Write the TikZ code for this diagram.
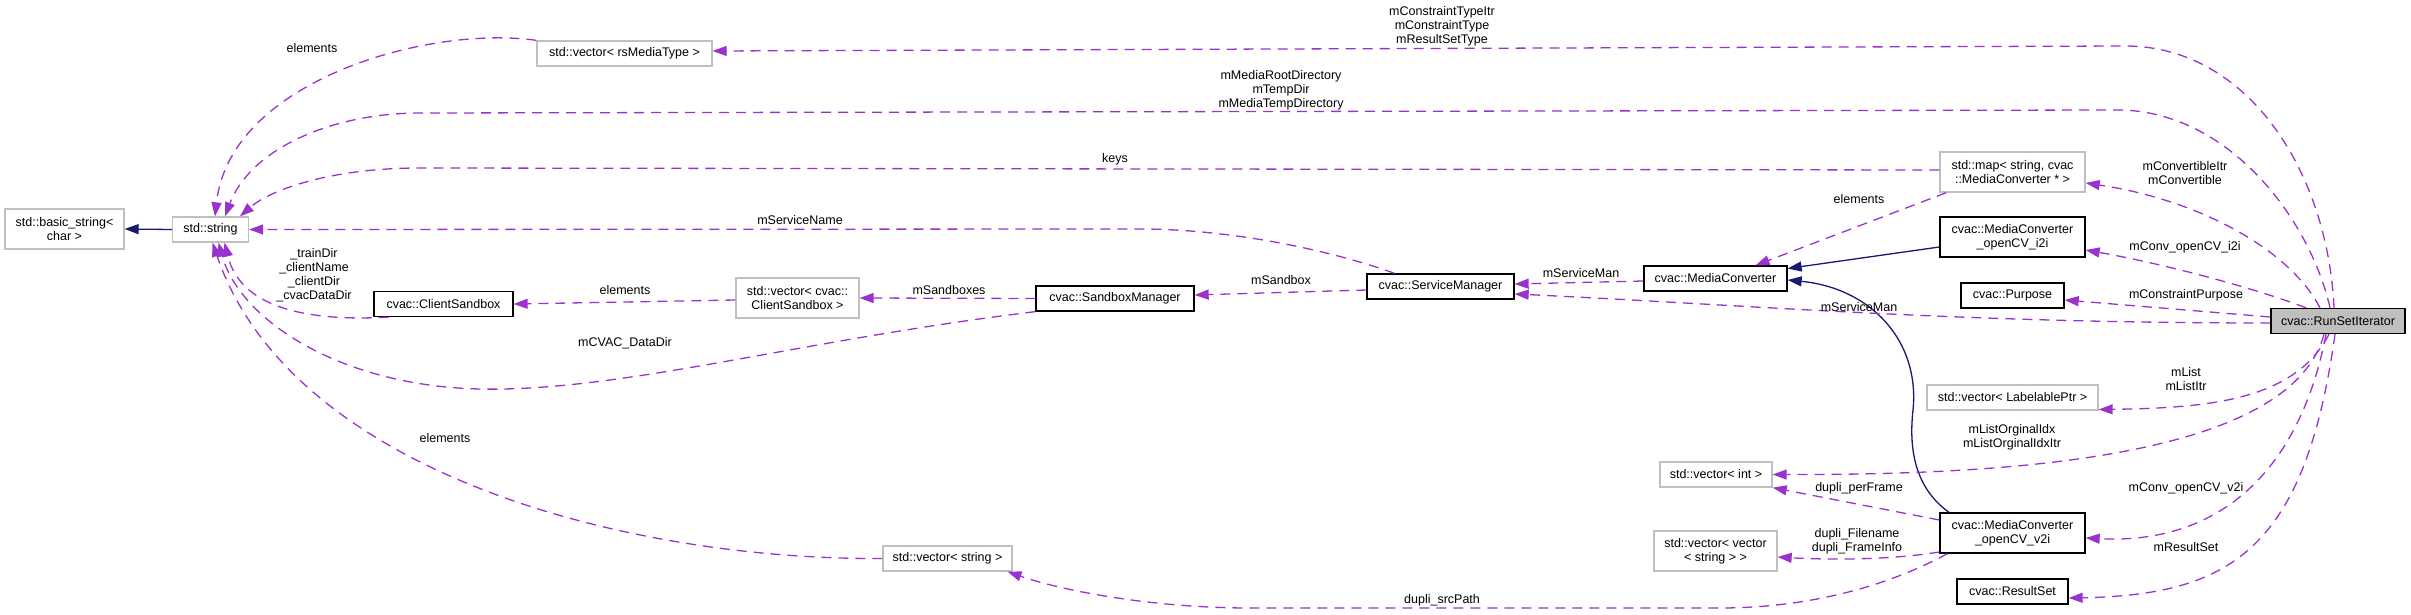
\documentclass[tikz,border=0pt]{standalone}
\usepackage{fontspec}
\setmainfont{Liberation Sans}
\usepackage{tikz}
\usetikzlibrary{arrows.meta,positioning,calc}
\definecolor{usecol}{HTML}{9A32CD}
\definecolor{inhcol}{HTML}{191970}
\definecolor{extcol}{HTML}{BFBFBF}

\begin{document}
\begin{tikzpicture}[x=1pt, y=-1pt,
  cls/.style={draw=black, fill=white, line width=1.3pt, inner sep=1pt, align=center, minimum height=25pt, font=\fontsize{12.5}{14}\selectfont},
  extcls/.style={cls, draw=extcol},
  twoline/.style={minimum height=40pt},
  usage/.style={draw=usecol, line width=1.3pt, dash pattern=on 10pt off 7pt, -{Triangle[length=14pt, width=10pt, fill=usecol]}},
  inherit/.style={draw=inhcol, line width=1.3pt, -{Triangle[length=14pt, width=10pt, fill=inhcol]}},
  lbl/.style={font=\fontsize{12.5}{14}\selectfont, align=center, inner sep=0pt}
]
\useasboundingbox (0,0) rectangle (2411,615);

\node[extcls, twoline, minimum width=119pt] (basicstr) at (64.5,229) {std::basic\_string<\\char >};
\node[extcls, minimum width=76pt] (stdstr) at (210.5,229.5) {std::string};
\node[extcls, minimum width=175pt] (vecrs) at (624.5,53.5) {std::vector< rsMediaType >};
\node[cls, minimum width=139pt] (clientsb) at (443.5,304) {cvac::ClientSandbox};
\node[extcls, twoline, minimum width=123pt] (vecclient) at (797.5,298) {std::vector< cvac::\\ClientSandbox >};
\node[cls, minimum width=158pt] (sandboxmgr) at (1115,298.5) {cvac::SandboxManager};
\node[cls, minimum width=147pt] (servicemgr) at (1440.5,286.5) {cvac::ServiceManager};
\node[cls, minimum width=143pt] (mediaconv) at (1715.5,278.5) {cvac::MediaConverter};
\node[extcls, twoline, minimum width=145pt] (stdmap) at (2012.5,172) {std::map< string, cvac\\::MediaConverter * >};
\node[cls, twoline, minimum width=145pt] (convi2i) at (2012.5,237) {cvac::MediaConverter\\\_openCV\_i2i};
\node[cls, minimum width=103pt] (purpose) at (2012.5,295.5) {cvac::Purpose};
\node[cls, fill=extcol, minimum width=134pt] (runset) at (2338,321) {cvac::RunSetIterator};
\node[extcls, minimum width=171pt] (veclab) at (2012.5,397.5) {std::vector< LabelablePtr >};
\node[extcls, minimum width=112pt] (vecint) at (1716,474.5) {std::vector< int >};
\node[cls, twoline, minimum width=145pt] (convv2i) at (2012.5,533) {cvac::MediaConverter\\\_openCV\_v2i};
\node[extcls, twoline, minimum width=123pt] (vecvec) at (1715.5,551) {std::vector< vector\\< string > >};
\node[extcls, minimum width=129pt] (vecstr) at (947.5,558.5) {std::vector< string >};
\node[cls, minimum width=111pt] (resultset) at (2012.5,591.5) {cvac::ResultSet};

\draw[inherit] (stdstr.west) -- (basicstr.east);
\draw[inherit] ([yshift=-10pt]convi2i.west) -- ([yshift=10pt]mediaconv.east);
\draw[inherit] ([xshift=-63.5pt]convv2i.north) .. controls (1918,490) and (1908,455) .. (1913,410) .. controls (1920,340) and (1870,288) .. ([yshift=-1.5pt]mediaconv.east);

\draw[usage] (vecrs.north west) .. controls (430,25) and (230,80) .. ([xshift=4.5pt]stdstr.north);
\draw[usage] ([xshift=-4pt]runset.north) .. controls (2328,175) and (2250,46) .. (2125,46) -- ([yshift=2.5pt]vecrs.east);
\draw[usage] ([xshift=-8pt]runset.north) .. controls (2310,220) and (2230,112) .. (2120,110) -- (420,113) .. controls (330,113) and (250,150) .. ([xshift=14.5pt]stdstr.north);
\draw[usage] ([yshift=2pt]stdmap.west) -- (420,168) .. controls (330,168) and (270,190) .. ([xshift=29.5pt]stdstr.north);
\draw[usage] ([xshift=-46pt]servicemgr.north) .. controls (1330,250) and (1230,229) .. (1140,229) -- (stdstr.east);
\draw[usage] ([xshift=-55pt]clientsb.south) .. controls (300,322) and (240,305) .. ([xshift=14pt]stdstr.south);
\draw[usage] (sandboxmgr.south west) .. controls (800,340) and (620,392) .. (480,389) .. controls (340,386) and (240,320) .. ([xshift=8pt]stdstr.south);
\draw[usage] (vecstr.west) .. controls (620,560) and (290,470) .. ([xshift=2pt]stdstr.south);
\draw[usage] ([yshift=-2pt]vecclient.west) -- (clientsb.east);
\draw[usage] (sandboxmgr.west) -- (vecclient.east);
\draw[usage] ([yshift=-3.5pt]servicemgr.west) -- ([yshift=3.5pt]sandboxmgr.east);
\draw[usage] ([yshift=-2.5pt]mediaconv.west) -- ([yshift=2.5pt]servicemgr.east);
\draw[usage] ([yshift=-2pt]runset.west) .. controls (1950,323) and (1750,305) .. ([yshift=-7.5pt]servicemgr.east);
\draw[usage] ([xshift=7pt]stdmap.south west) -- ([xshift=40pt]mediaconv.north);
\draw[usage] ([xshift=-18pt]runset.north) .. controls (2290,250) and (2200,200) .. ([yshift=-11pt]stdmap.east);
\draw[usage] ([xshift=-32pt]runset.north) .. controls (2260,290) and (2170,265) .. ([yshift=-13pt]convi2i.east);
\draw[usage] ([yshift=4pt]runset.west) -- ([yshift=-4.5pt]purpose.east);
\draw[usage] ([xshift=-9pt]runset.south) .. controls (2295,400) and (2210,408) .. ([yshift=-12pt]veclab.east);
\draw[usage] ([xshift=-14pt]runset.south) .. controls (2290,460) and (2000,475) .. (vecint.east);
\draw[usage] ([yshift=13pt]convv2i.west) -- (vecint.south east);
\draw[usage] ([xshift=-12pt]runset.south) .. controls (2300,470) and (2220,545) .. ([yshift=-5pt]convv2i.east);
\draw[usage] ([yshift=-19pt]convv2i.west) .. controls (1890,560) and (1830,560) .. ([yshift=-6pt]vecvec.east);
\draw[usage] ([xshift=-65pt]convv2i.south) .. controls (1880,590) and (1800,608) .. (1720,608) -- (1250,608) .. controls (1150,608) and (1060,590) .. ([xshift=60pt]vecstr.south);
\draw[usage] ([xshift=-3pt]runset.south) .. controls (2305,550) and (2230,595) .. ([yshift=-6.5pt]resultset.east);

\node[lbl] (lrselem) at (312,48) {elements};
\node[lbl] (lconstr) at (1442,26) {mConstraintTypeItr\\mConstraintType\\mResultSetType};
\node[lbl] (lmedia) at (1281,90) {mMediaRootDirectory\\mTempDir\\mMediaTempDirectory};
\node[lbl] (lkeys) at (1115,159) {keys};
\node[lbl] (lsvcname) at (800,220) {mServiceName};
\node[lbl] (ldirs) at (314,275) {\_trainDir\\\_clientName\\\_clientDir\\\_cvacDataDir};
\node[lbl] (lclelem) at (625,290) {elements};
\node[lbl] (lsandboxes) at (949,290) {mSandboxes};
\node[lbl] (lsandbox) at (1281,280) {mSandbox};
\node[lbl] (ldatadir) at (625,343) {mCVAC\_DataDir};
\node[lbl] (lstrelem) at (445,438) {elements};
\node[lbl] (lsvcman) at (1581,273) {mServiceMan};
\node[lbl] (lmapelem) at (1859,199) {elements};
\node[lbl] (lsvcmantwo) at (1859,307) {mServiceMan};
\node[lbl] (lconvert) at (2185,173) {mConvertibleItr\\mConvertible};
\node[lbl] (li2i) at (2185,247) {mConv\_openCV\_i2i};
\node[lbl] (lpurpose) at (2186,295) {mConstraintPurpose};
\node[lbl] (llist) at (2186,379) {mList\\mListItr};
\node[lbl] (lidx) at (2012,437) {mListOrginalIdx\\mListOrginalIdxItr};
\node[lbl] (lperframe) at (1859,488) {dupli\_perFrame};
\node[lbl] (lv2i) at (2186,488) {mConv\_openCV\_v2i};
\node[lbl] (lfile) at (1857,541) {dupli\_Filename\\dupli\_FrameInfo};
\node[lbl] (lresult) at (2186,547) {mResultSet};
\node[lbl] (lsrc) at (1442,600) {dupli\_srcPath};

\end{tikzpicture}
\end{document}
